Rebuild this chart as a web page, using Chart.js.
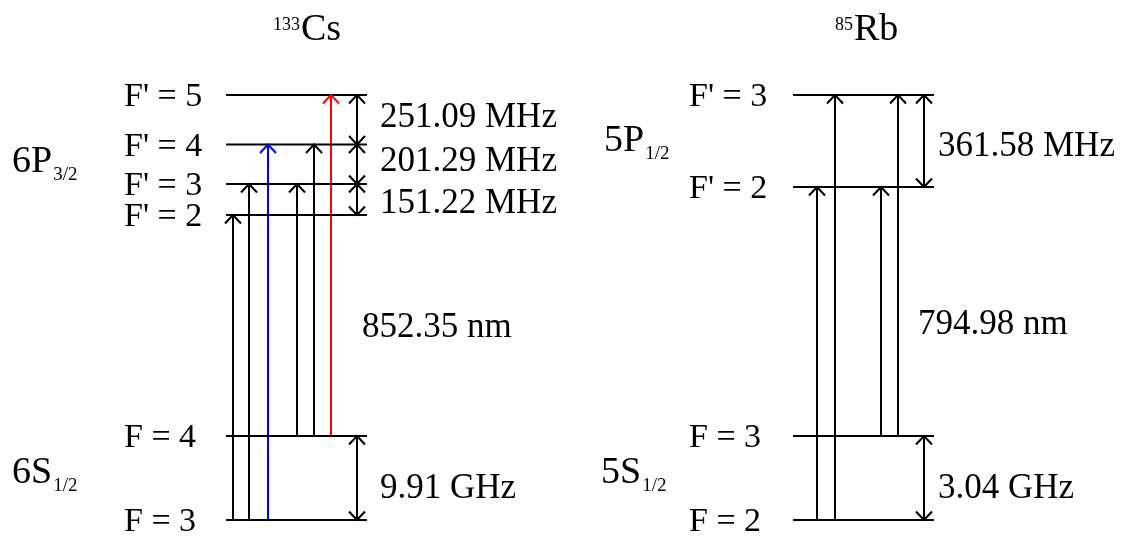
<!DOCTYPE html>
<html>
<head>
<meta charset="utf-8">
<script src="https://cdn.jsdelivr.net/npm/chart.js@4.4.0/dist/chart.umd.min.js"></script>
<style>
  body { margin: 0; background: #fff; }
  #wrap { width: 1125px; height: 536px; }
</style>
</head>
<body>
<div id="wrap"><canvas id="diagram" width="1125" height="536"></canvas></div>
<script>
// Level heights are in diagram units (not to scale), bottom of the picture = 0
const csLevelNames = ['F = 3', 'F = 4', "F' = 2", "F' = 3", "F' = 4", "F' = 5"];
const csLevelHeights = [16, 100, 321, 352, 391.5, 441];
const csTransitions = [[0, 2], [0, 3], [0, 4], [1, 3], [1, 4], [1, 5]]; // from, to
const csSplitPairs = [[0, 1], [2, 3], [3, 4], [4, 5]];
const csSplitLabels = ['9.91 GHz', '151.22 MHz', '201.29 MHz', '251.09 MHz'];
const csWavelength = '852.35 nm';

const rbLevelNames = ['F = 2', 'F = 3', "F' = 2", "F' = 3"];
const rbLevelHeights = [16, 100, 349, 441];
const rbTransitions = [[0, 2], [0, 3], [1, 2], [1, 3]];
const rbSplitPairs = [[0, 1], [2, 3]];
const rbSplitLabels = ['3.04 GHz', '361.58 MHz'];
const rbWavelength = '794.98 nm';

// where things sit on the page (x in page units, heights in diagram units)
const csLayout = {
  title: ['133', 'Cs'], titleX: 273, titleH: 496,
  labelX: 124, lineX: [226, 367],
  arrowX: [233, 249, 268, 297, 314, 331],
  arrowColor: ['#000', '#000', '#0000ff', '#000', '#000', '#ff0000'],
  splitX: 357, splitTextX: 380, splitTextH: [38, 323, 365, 409],
  waveX: 362, waveH: 199,
  terms: [['6P', '3/2', 12, 364], ['6S', '1/2', 12, 53]]
};
const rbLayout = {
  title: ['85', 'Rb'], titleX: 835, titleH: 496,
  labelX: 689, lineX: [793, 934],
  arrowX: [817, 835, 881, 898],
  arrowColor: ['#000', '#000', '#000', '#000'],
  splitX: 924, splitTextX: 938, splitTextH: [38, 380],
  waveX: 918, waveH: 202,
  terms: [['5P', '1/2', 604, 385], ['5S', '1/2', 601, 53]]
};

const FONT = '"Liberation Serif", "Times New Roman", serif';

function seg(x0, y0, x1, y1, color, heads) {
  return {
    data: [{ x: x0, y: y0 }, { x: x1, y: y1 }],
    showLine: true, borderColor: color, borderWidth: 2,
    pointRadius: 0, pointHoverRadius: 0, fill: false,
    heads: heads || [], headColor: color
  };
}

function buildSets(heights, transitions, splitPairs, lay) {
  const sets = [];
  heights.forEach(h => sets.push(seg(lay.lineX[0], h, lay.lineX[1], h, '#000')));
  transitions.forEach((t, i) => {
    sets.push(seg(lay.arrowX[i], heights[t[0]], lay.arrowX[i], heights[t[1]], lay.arrowColor[i], ['end']));
  });
  splitPairs.forEach(p => {
    sets.push(seg(lay.splitX, heights[p[0]], lay.splitX, heights[p[1]], '#000', ['start', 'end']));
  });
  return sets;
}

const datasets = buildSets(csLevelHeights, csTransitions, csSplitPairs, csLayout)
  .concat(buildSets(rbLevelHeights, rbTransitions, rbSplitPairs, rbLayout));

const arrowHeads = {
  id: 'arrowHeads',
  afterDatasetsDraw(chart) {
    const ctx = chart.ctx;
    chart.data.datasets.forEach((ds, i) => {
      if (!ds.heads.length) return;
      const pts = chart.getDatasetMeta(i).data;
      ds.heads.forEach(which => {
        const tip = which === 'end' ? pts[1] : pts[0];
        const tail = which === 'end' ? pts[0] : pts[1];
        const dir = tip.y > tail.y ? 1 : -1;
        ctx.save();
        ctx.strokeStyle = ds.headColor;
        ctx.lineWidth = 2;
        ctx.beginPath();
        ctx.moveTo(tip.x - 8, tip.y - dir * 8.5);
        ctx.lineTo(tip.x, tip.y);
        ctx.lineTo(tip.x + 8, tip.y - dir * 8.5);
        ctx.stroke();
        ctx.restore();
      });
    });
  }
};

function drawTexts(chart, names, heights, splitPairs, splitLabels, wave, lay) {
  const ctx = chart.ctx;
  const xs = chart.scales.x, ys = chart.scales.y;
  const X = v => xs.getPixelForValue(v);
  const Y = v => ys.getPixelForValue(v);
  ctx.fillStyle = '#000';
  ctx.textBaseline = 'alphabetic';
  ctx.textAlign = 'left';

  // title with mass number as superscript
  ctx.font = '18px ' + FONT;
  ctx.fillText(lay.title[0], X(lay.titleX), Y(lay.titleH + 10));
  const sw = ctx.measureText(lay.title[0]).width;
  ctx.font = '38px ' + FONT;
  ctx.fillText(lay.title[1], X(lay.titleX) + sw + 1, Y(lay.titleH));

  ctx.font = '34px ' + FONT;
  names.forEach((n, i) => ctx.fillText(n, X(lay.labelX), Y(heights[i] - 11)));

  ctx.font = '35px ' + FONT;
  splitLabels.forEach((s, i) => ctx.fillText(s, X(lay.splitTextX), Y(lay.splitTextH[i])));
  ctx.fillText(wave, X(lay.waveX), Y(lay.waveH));

  lay.terms.forEach(t => {
    ctx.font = '38px ' + FONT;
    ctx.fillText(t[0], X(t[2]), Y(t[3]));
    const w = ctx.measureText(t[0]).width;
    ctx.font = '19px ' + FONT;
    ctx.fillText(t[1], X(t[2]) + w + 1, Y(t[3] - 8));
  });
}

const labels = {
  id: 'labels',
  afterDraw(chart) {
    drawTexts(chart, csLevelNames, csLevelHeights, csSplitPairs, csSplitLabels, csWavelength, csLayout);
    drawTexts(chart, rbLevelNames, rbLevelHeights, rbSplitPairs, rbSplitLabels, rbWavelength, rbLayout);
  }
};

new Chart(document.getElementById('diagram').getContext('2d'), {
  type: 'scatter',
  data: { datasets: datasets },
  options: {
    responsive: false,
    animation: false,
    layout: { padding: 0 },
    plugins: { legend: { display: false }, tooltip: { enabled: false } },
    scales: {
      x: { type: 'linear', min: 0, max: 1125, display: false },
      y: { type: 'linear', min: 0, max: 536, display: false }
    },
    elements: { line: { borderCapStyle: 'butt', tension: 0 } }
  },
  plugins: [arrowHeads, labels]
});
</script>
</body>
</html>
